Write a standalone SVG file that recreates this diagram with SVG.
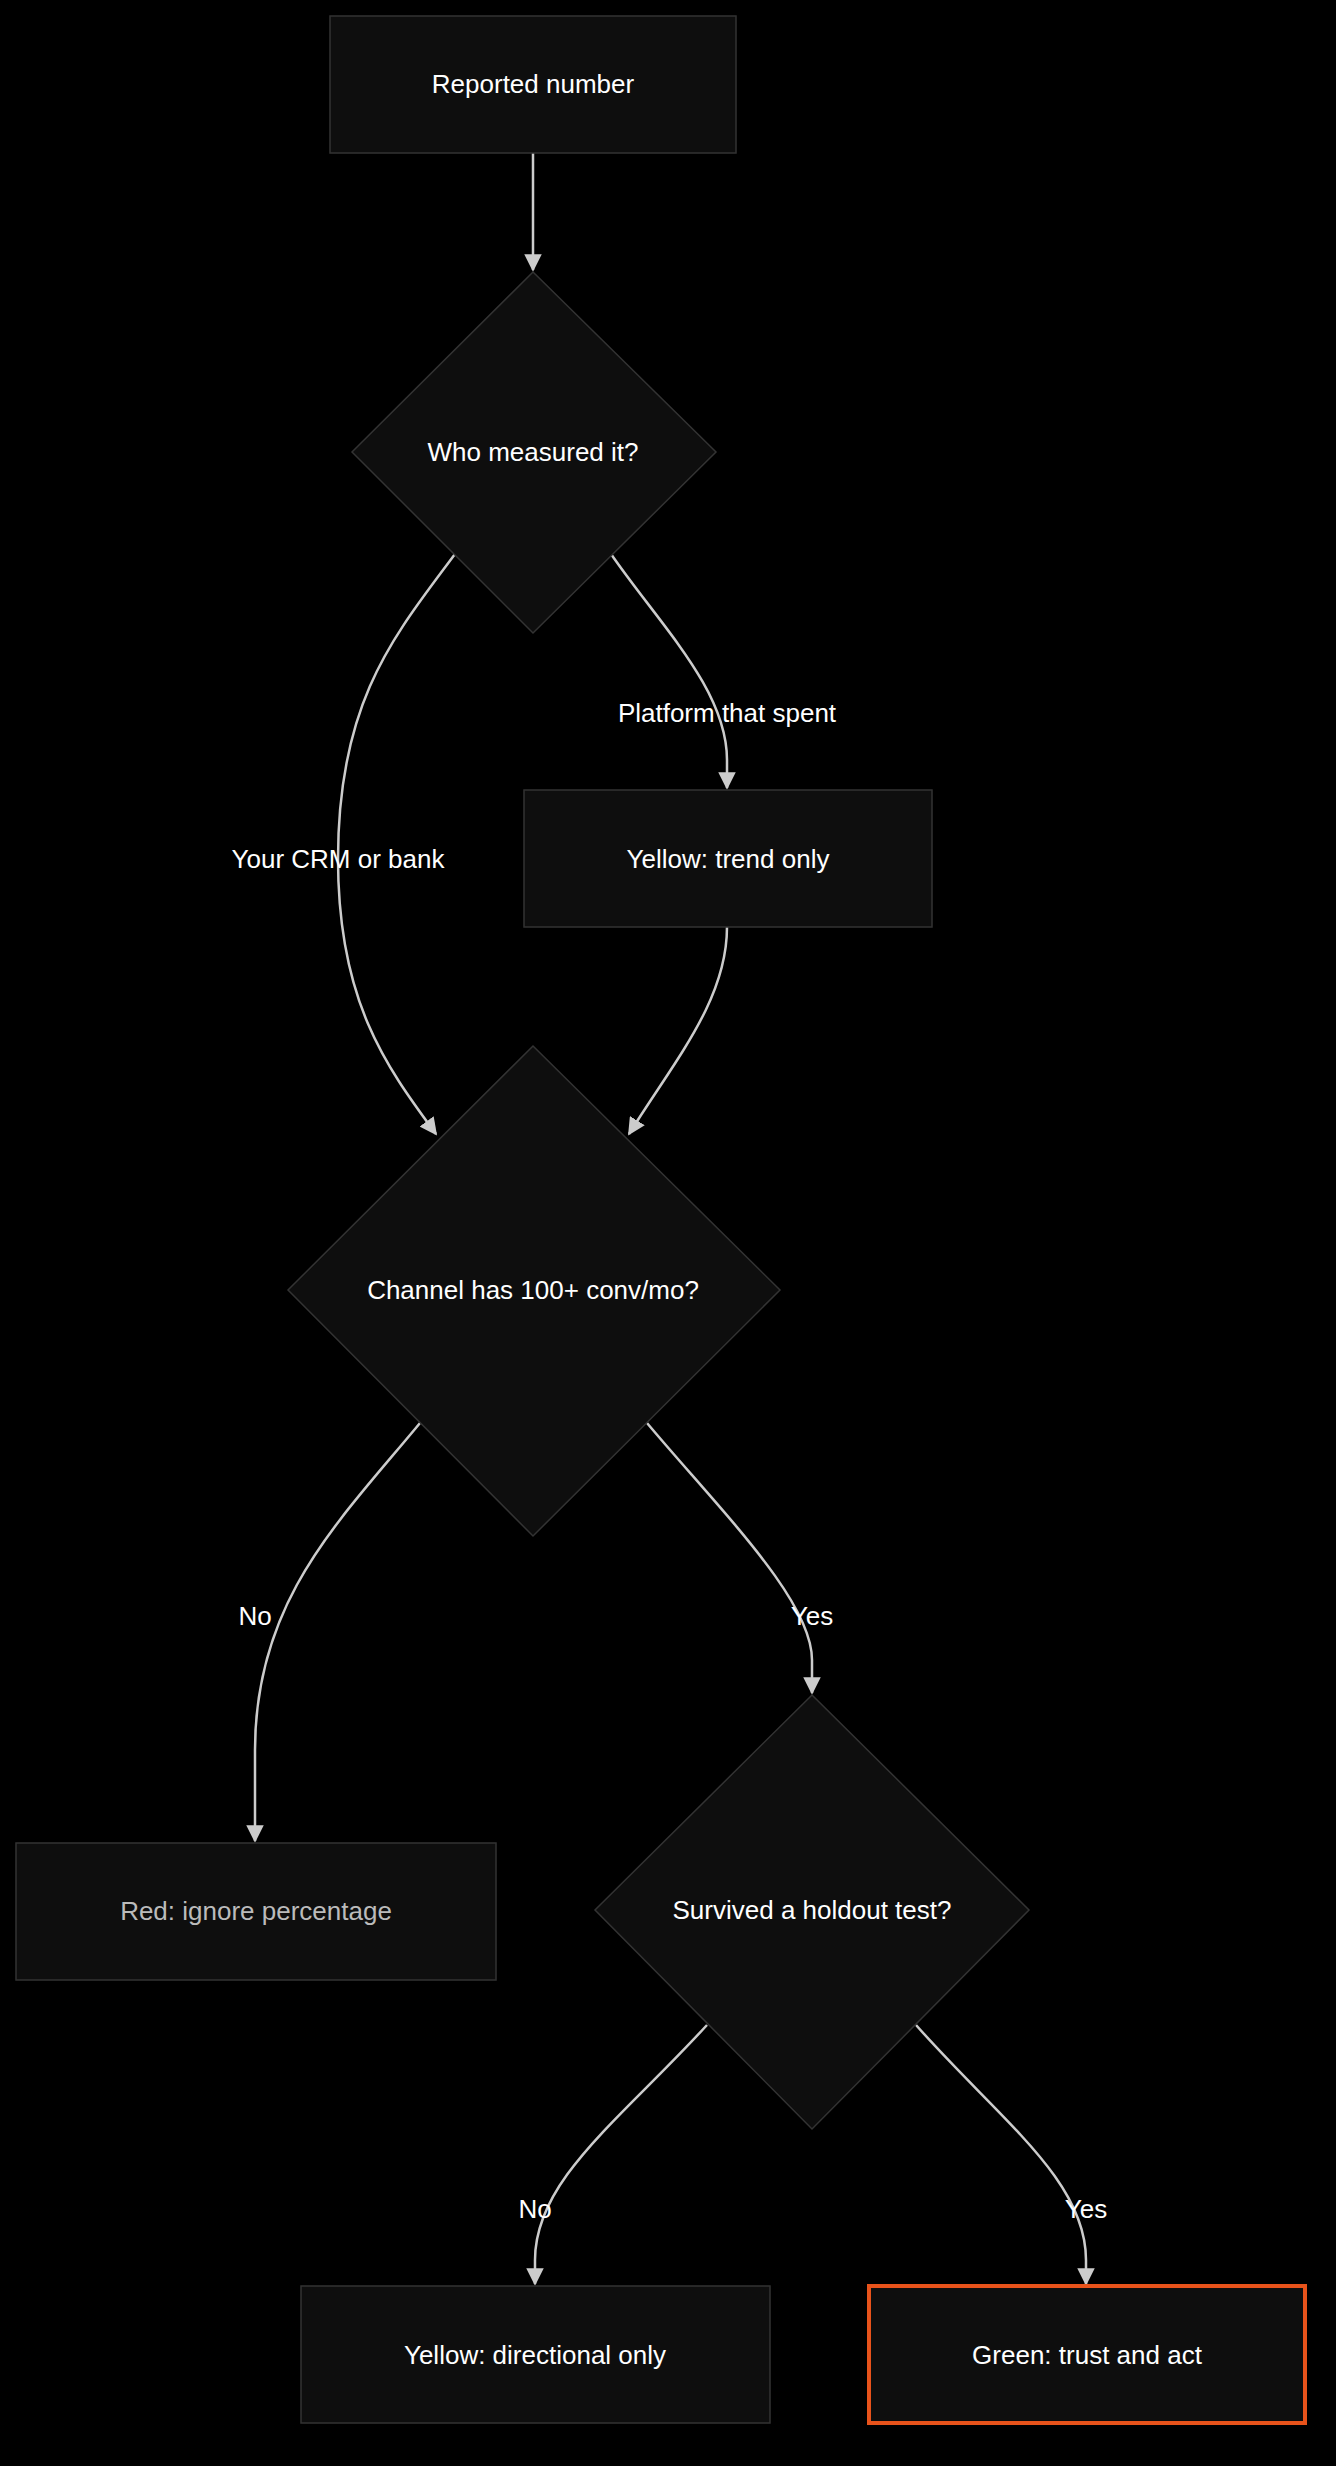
<svg xmlns="http://www.w3.org/2000/svg" width="1336" height="2466" viewBox="0 0 1336 2466">
<style>
.n{fill:#0e0e0e;stroke:#333;stroke-width:1.5}
.t{font-family:"Liberation Sans",Arial,sans-serif;font-size:26px;fill:#fff;text-anchor:middle;dominant-baseline:central}
.e{fill:none;stroke:#ccc;stroke-width:2.5;marker-end:url(#a)}
</style>
<defs><marker id="a" viewBox="0 0 10 10" refX="9" refY="5" markerWidth="7" markerHeight="7" orient="auto"><path d="M0,0L10,5L0,10z" fill="#ccc"/></marker></defs>
<rect width="1336" height="2466" fill="#000"/>
<g id="edges">
<path class="e" d="M533,153L533,270"/>
<path class="e" d="M455,554C395,635 338,700 338,859C338,1000 385,1065 436,1134"/>
<path class="e" d="M611,554C660,625 727,690 727,760L727,788"/>
<path class="e" d="M727,927C727,1000 675,1060 629,1134"/>
<path class="e" d="M420,1423C340,1520 255,1600 255,1750L255,1841"/>
<path class="e" d="M647,1423C720,1510 812,1600 812,1660L812,1693"/>
<path class="e" d="M707,2025C620,2120 535,2180 535,2260L535,2284"/>
<path class="e" d="M916,2025C1000,2120 1086,2180 1086,2260L1086,2284"/>
<text class="t" x="338" y="859">Your CRM or bank</text>
<text class="t" x="727" y="713">Platform that spent</text>
<text class="t" x="255" y="1616">No</text>
<text class="t" x="812" y="1616">Yes</text>
<text class="t" x="535" y="2209">No</text>
<text class="t" x="1086" y="2209">Yes</text>
</g>
<g id="n1"><rect class="n" x="330" y="16" width="406" height="137"/><text class="t" x="533" y="84">Reported number</text></g>
<g id="n2"><polygon class="n" points="533,272 716,452 533,633 352,452"/><text class="t" x="533" y="452">Who measured it?</text></g>
<g id="n3"><rect class="n" x="524" y="790" width="408" height="137"/><text class="t" x="728" y="859">Yellow: trend only</text></g>
<g id="n4"><polygon class="n" points="533,1046 780,1290 533,1536 288,1290"/><text class="t" x="533" y="1290">Channel has 100+ conv/mo?</text></g>
<g id="n5"><rect class="n" x="16" y="1843" width="480" height="137"/><text class="t" x="256" y="1911" style="fill:#bbb">Red: ignore percentage</text></g>
<g id="n6"><polygon class="n" points="812,1695 1029,1910 812,2129 595,1910"/><text class="t" x="812" y="1910">Survived a holdout test?</text></g>
<g id="n7"><rect class="n" x="301" y="2286" width="469" height="137"/><text class="t" x="535" y="2355">Yellow: directional only</text></g>
<g id="n8"><rect class="n" x="869" y="2286" width="436" height="137" style="stroke:#e8531b;stroke-width:4"/><text class="t" x="1087" y="2355">Green: trust and act</text></g>
</svg>
